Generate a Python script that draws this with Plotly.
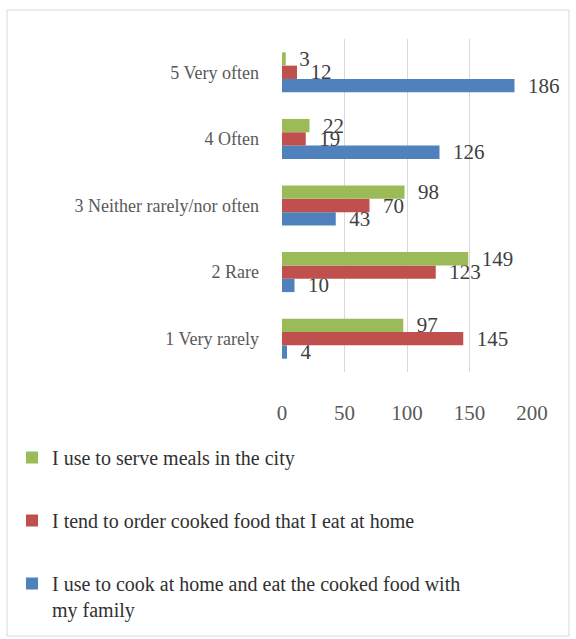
import plotly.graph_objects as go

categories = ["1 Very rarely", "2 Rare", "3 Neither rarely/nor often", "4 Often", "5 Very often"]
cook_home = [4, 10, 43, 126, 186]
order_food = [145, 123, 70, 19, 12]
serve_city = [97, 149, 98, 22, 3]
series_names = [
    "I use to cook at home and eat the cooked food with<br>my family",
    "I tend to order cooked food that I eat at home",
    "I use to serve meals in the city",
]
colors = ["#4F81BD", "#C0504D", "#9BBB59"]
legend_ranks = [3, 2, 1]
x_ticks = [0, 50, 100, 150, 200]

W, H = 576, 639
L, R, T, B = 282, 44, 39, 267
pw, ph = W - L - R, H - T - B

def px_x(px):
    return (px - L) / pw

def px_y(py):
    return 1 - (py - T) / ph

fig = go.Figure()
for i, (vals, name, col) in enumerate(zip([cook_home, order_food, serve_city], series_names, colors)):
    fig.add_trace(go.Bar(
        y=categories, x=vals, orientation="h", name=name,
        marker=dict(color=col, line=dict(width=0)),
        texttemplate="&nbsp;&nbsp;%{x}", textposition="outside",
        textfont=dict(family="Liberation Serif", size=21, color="#404040"),
        cliponaxis=False, constraintext="none",
        legendgroup=f"g{i}", legendrank=legend_ranks[i],
        hoverinfo="skip",
    ))

fig.update_layout(
    width=W, height=H,
    margin=dict(l=L, r=R, t=T, b=B, autoexpand=False),
    paper_bgcolor="white", plot_bgcolor="white",
    barmode="group", bargap=0.4, bargroupgap=0,
    font=dict(family="Liberation Serif", color="#595959", size=16),
    xaxis=dict(range=[0, 200], tickvals=x_ticks, showgrid=True, gridcolor="#D9D9D9",
               gridwidth=1, zeroline=False, showline=False, automargin=False,
               tickfont=dict(size=21, color="#595959"), ticklabelstandoff=26),
    yaxis=dict(categoryorder="array", categoryarray=categories, showgrid=False,
               showline=False, zeroline=False, ticks="", automargin=False,
               tickfont=dict(size=18, color="#595959"), ticklabelstandoff=22),
    showlegend=True,
    legend=dict(
        orientation="v", xref="container", yref="container",
        x=12 / W, y=1 - 438 / H, xanchor="left", yanchor="top",
        traceorder="grouped", tracegroupgap=34, valign="top",
        font=dict(family="Liberation Serif", size=20, color="#303030"),
        itemwidth=30, bgcolor="rgba(0,0,0,0)",
    ),
    shapes=[dict(type="rect", xref="paper", yref="paper",
                 x0=px_x(7), x1=px_x(569), y0=px_y(636), y1=px_y(10),
                 line=dict(color="#D9D9D9", width=1), fillcolor="rgba(0,0,0,0)", layer="below")],
)

fig.write_html("out.html", config={"displayModeBar": False},
               post_script="document.body.style.margin='0';")
